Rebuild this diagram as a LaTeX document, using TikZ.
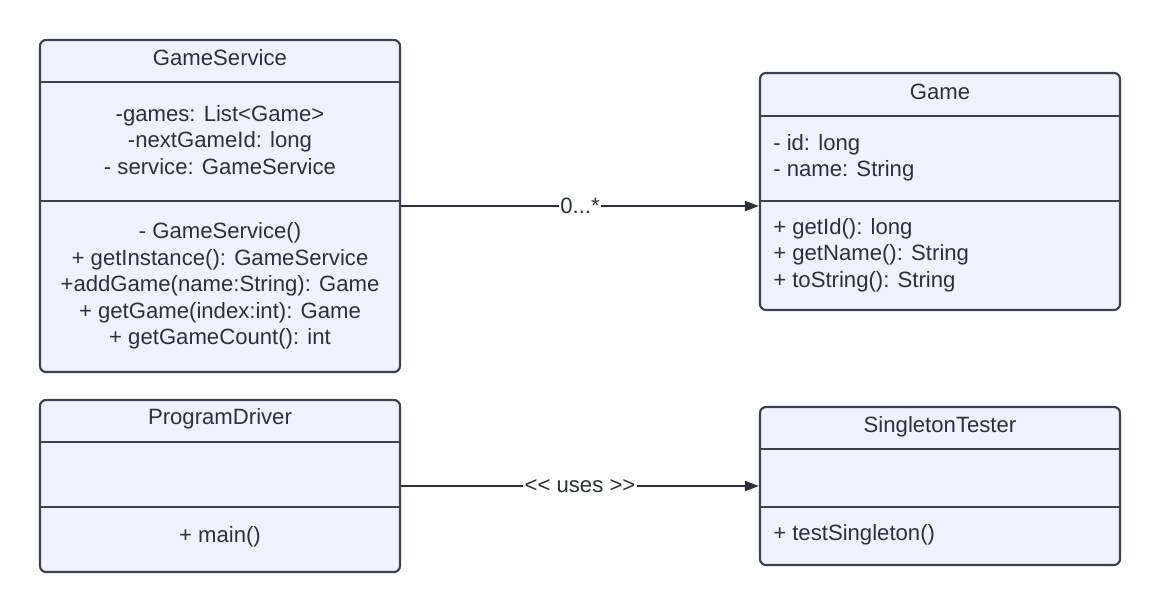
\documentclass[tikz,border=0pt]{standalone}
\usepackage{fontspec}
\setmainfont{Liberation Sans}
\usetikzlibrary{arrows.meta}
\definecolor{boxfill}{HTML}{EEF4FF}
\definecolor{boxline}{HTML}{3A424D}
\definecolor{txt}{HTML}{2B313A}
\tikzset{
    classbox/.style = {draw=boxline, fill=boxfill, line width=1.6pt,
        rounded corners=4.5pt, minimum width=270pt, inner sep=0pt},
    divider/.style = {draw=boxline, line width=1.6pt},
    member/.style = {text=txt, inner sep=0pt,
        font=\fontsize{16.6}{19.9}\selectfont},
    assoc/.style = {draw=txt, line width=1.5pt,
        -{Triangle[length=10.5pt,width=7.5pt]}},
}

\begin{document}
\begin{tikzpicture}[x=0.75pt, y=-0.75pt]
    \useasboundingbox (0,0) rectangle (1160,612);

    % GameService
    \begin{scope}[name prefix = gs-]
        \node[classbox, minimum height=249pt] (box) at (220,206) {};
        \draw[divider] (40,82) -- (400,82);
        \draw[divider] (40,201) -- (400,201);
        \node[member] (name) at (220,58) {GameService};
        \node[member, align=center] (attr) at (220,140)
            {-games: List<Game>\\-nextGameId: long\\- service: GameService};
        \node[member, align=center] (ops) at (220,286)
            {- GameService()\\+ getInstance(): GameService\\+addGame(name:String): Game\\+ getGame(index:int): Game\\+ getGameCount(): int};
    \end{scope}

    % Game
    \begin{scope}[name prefix = game-]
        \node[classbox, minimum height=177.75pt] (box) at (940,191.5) {};
        \draw[divider] (760,116) -- (1120,116);
        \draw[divider] (760,201) -- (1120,201);
        \node[member] (name) at (940,92) {Game};
        \node[member, align=left, anchor=west] (attr) at (773,158)
            {- id: long\\- name: String};
        \node[member, align=left, anchor=west] (ops) at (773,255)
            {+ getId(): long\\+ getName(): String\\+ toString(): String};
    \end{scope}

    % ProgramDriver
    \begin{scope}[name prefix = pd-]
        \node[classbox, minimum height=129pt] (box) at (220,486) {};
        \draw[divider] (40,442) -- (400,442);
        \draw[divider] (40,507) -- (400,507);
        \node[member] (name) at (220,419) {ProgramDriver};
        \node[member] (ops) at (220,537) {+ main()};
    \end{scope}

    % SingletonTester
    \begin{scope}[name prefix = st-]
        \node[classbox, minimum height=118.5pt] (box) at (940,486) {};
        \draw[divider] (760,449) -- (1120,449);
        \draw[divider] (760,507) -- (1120,507);
        \node[member] (name) at (940,427) {SingletonTester};
        \node[member, anchor=west] (ops) at (773,535) {+ testSingleton()};
    \end{scope}

    \draw[assoc] (gs-box.east) -- (gs-box.east -| game-box.west)
        node[member, midway, fill=white, inner sep=1pt] (mult) {0...*};
    \draw[assoc] (pd-box.east) -- (st-box.west)
        node[member, midway, fill=white, inner sep=1pt] (uses) {<{}< uses >{}>};
\end{tikzpicture}
\end{document}
